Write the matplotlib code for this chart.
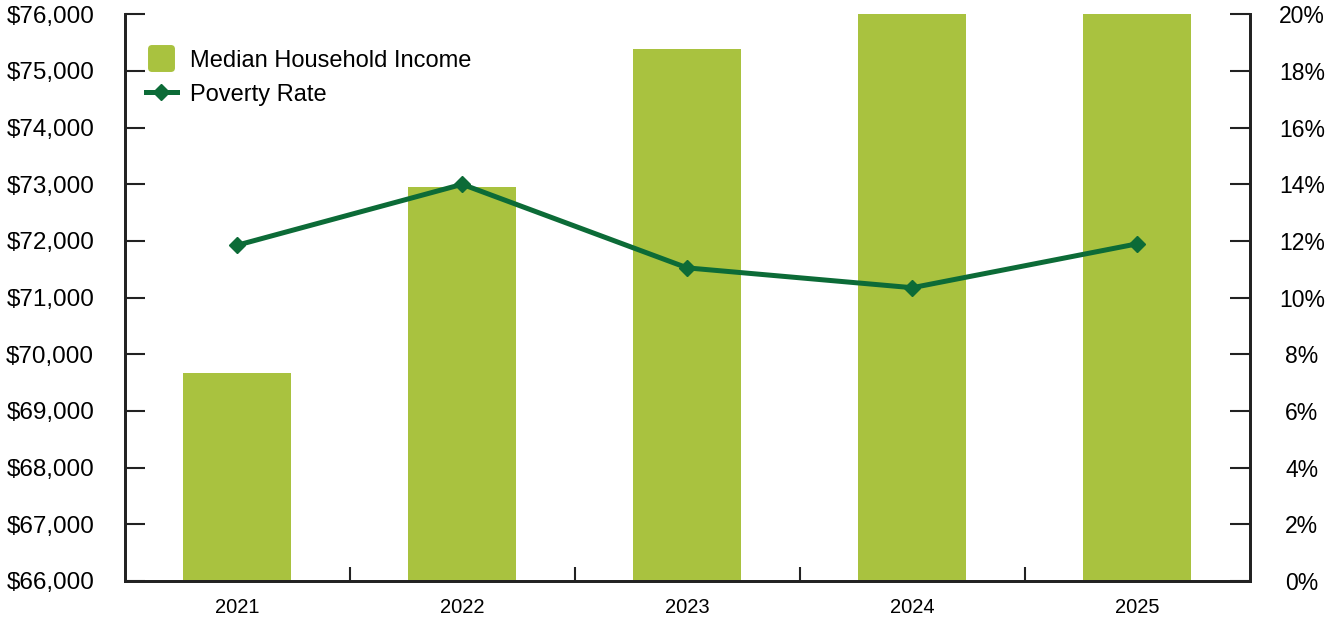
import numpy as np
import matplotlib.pyplot as plt
from matplotlib.lines import Line2D
from matplotlib.markers import MarkerStyle
from matplotlib.ticker import FuncFormatter

years = ['2021', '2022', '2023', '2024', '2025']
median_income = [69670, 72960, 75390, 76400, 76400]
poverty_rate = [11.85, 14.0, 11.05, 10.35, 11.9]

BAR_COLOR = '#a9c23f'
LINE_COLOR = '#0c6b37'
AXIS_COLOR = '#222222'

plt.rcParams['font.family'] = ['Liberation Sans', 'DejaVu Sans']

fig, ax = plt.subplots(figsize=(13.41, 6.22), dpi=100)
fig.subplots_adjust(left=0.093, right=0.932, top=0.977, bottom=0.066)

x = np.arange(len(years))
ax.bar(x, median_income, width=0.48, color=BAR_COLOR, zorder=2)
ax.set_xlim(-0.5, len(years) - 0.5)
ax.set_ylim(66000, 76000)
ax.set_yticks(np.arange(66000, 76001, 1000))
ax.yaxis.set_major_formatter(FuncFormatter(lambda v, p: '${:,.0f}'.format(v)))

ax.set_xticks(x)
ax.set_xticklabels(years)
ax.set_xticks(np.arange(0.5, len(years) - 0.5, 1), minor=True)
ax.tick_params(axis='x', which='major', length=0, pad=12, labelsize=14.5)
ax.tick_params(axis='x', which='minor', direction='in', length=10,
               width=1.5, color=AXIS_COLOR)
ax.tick_params(axis='y', direction='in', length=14.5, width=1.5,
               color=AXIS_COLOR, labelsize=17.5, pad=22)

ax2 = ax.twinx()
ax2.plot(x, poverty_rate, color=LINE_COLOR, linewidth=3.6, marker='D',
         markersize=8.5, zorder=3)
ax2.set_ylim(0, 20)
ax2.set_yticks(np.arange(0, 21, 2))
ax2.yaxis.set_major_formatter(FuncFormatter(lambda v, p: '{:.0f}%'.format(v)))
ax2.tick_params(axis='y', direction='in', length=14.5, width=1.5,
                color=AXIS_COLOR, labelsize=16.5, pad=37.5)
for lab in ax2.get_yticklabels():
    lab.set_horizontalalignment('center')

for a in (ax, ax2):
    a.spines['top'].set_visible(False)
    for s in ('left', 'right', 'bottom'):
        a.spines[s].set_linewidth(2)
        a.spines[s].set_color(AXIS_COLOR)

handles = [
    Line2D([], [], linestyle='None',
           marker=MarkerStyle('s', joinstyle='round'), markersize=14,
           markerfacecolor=BAR_COLOR, markeredgecolor=BAR_COLOR,
           markeredgewidth=5),
    Line2D([], [], color=LINE_COLOR, linewidth=3.6, marker='D',
           markersize=8.5),
]
ax2.legend(handles, ['Median Household Income', 'Poverty Rate'],
           loc='upper left', bbox_to_anchor=(0.0, 0.975), frameon=False,
           fontsize=17, handlelength=1.3, handletextpad=0.55,
           labelspacing=0.5)

fig.savefig('out.png', dpi=100)
